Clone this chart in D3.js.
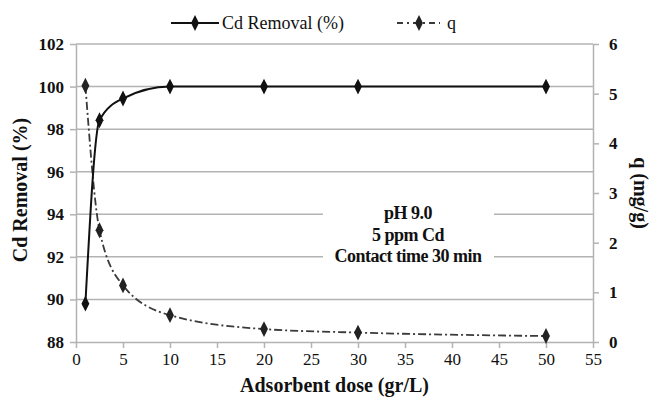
<!DOCTYPE html>
<html>
<head>
<meta charset="utf-8">
<script src="https://cdn.jsdelivr.net/npm/d3@7"></script>
<style>
  html, body { margin: 0; padding: 0; background: #fff; }
  svg { display: block; }
</style>
</head>
<body>
<svg id="chart" width="652" height="403"></svg>
<script>
// Adsorbent dose (g/L)
const doses = [1, 2.5, 5, 10, 20, 30, 50];
// Cd removal (%)
const removal = [89.8, 98.42, 99.44, 100, 100, 100, 100];
// Adsorption capacity q (mg/g)
const qValues = [5.16, 2.25, 1.14, 0.54, 0.26, 0.19, 0.12];

const xTicks = [0, 5, 10, 15, 20, 25, 30, 35, 40, 45, 50, 55];
const leftTicks = [88, 90, 92, 94, 96, 98, 100, 102];
const rightTicks = [0, 1, 2, 3, 4, 5, 6];
const noteLines = ["pH 9.0", "5 ppm Cd", "Contact time 30 min"];

const FONT = "'Liberation Serif', 'Times New Roman', 'DejaVu Serif', serif";

const svg = d3.select("#chart").attr("font-family", FONT);
const m = { left: 76, right: 593, top: 44, bottom: 342 };

const x = d3.scaleLinear().domain([0, 55]).range([m.left, m.right]);
const yL = d3.scaleLinear().domain([88, 102]).range([m.bottom, m.top]);
const yR = d3.scaleLinear().domain([0, 6]).range([m.bottom, m.top]);

const gridColor = "#b3b3b3";
const fmt = d3.format("d");

// horizontal gridlines
svg.append("g").selectAll("line").data(leftTicks.slice(1)).join("line")
  .attr("x1", m.left).attr("x2", m.right)
  .attr("y1", d => yL(d)).attr("y2", d => yL(d))
  .attr("stroke", gridColor).attr("stroke-width", 1.5);

// axes
const axisStyle = g => {
  g.attr("font-family", null);
  g.select(".domain").attr("stroke", gridColor).attr("stroke-width", 1.5);
  g.selectAll(".tick line").attr("stroke", gridColor).attr("stroke-width", 1.5);
  g.selectAll(".tick text").attr("fill", "#111").style("font-family", FONT);
};

svg.append("g").attr("transform", `translate(0,${m.bottom})`)
  .call(d3.axisBottom(x).tickValues(xTicks).tickFormat(fmt).tickSize(6).tickSizeOuter(0).tickPadding(5))
  .call(axisStyle)
  .call(g => g.selectAll(".tick text").attr("font-size", 17));

svg.append("g").attr("transform", `translate(${m.left},0)`)
  .call(d3.axisLeft(yL).tickValues(leftTicks).tickFormat(fmt).tickSize(6).tickSizeOuter(0).tickPadding(6))
  .call(axisStyle)
  .call(g => g.selectAll(".tick text").attr("font-size", 17).attr("font-weight", "bold"));

svg.append("g").attr("transform", `translate(${m.right},0)`)
  .call(d3.axisRight(yR).tickValues(rightTicks).tickFormat(fmt).tickSize(6).tickSizeOuter(0).tickPadding(10))
  .call(axisStyle)
  .call(g => g.selectAll(".tick text").attr("font-size", 17).attr("font-weight", "bold"));

// annotation box (white background over gridlines)
const noteX = 408;
svg.append("rect").attr("x", 323).attr("y", 196).attr("width", 171).attr("height", 74)
  .attr("fill", "#fff");
svg.append("g").selectAll("text").data(noteLines).join("text")
  .attr("x", noteX).attr("y", (d, i) => 219 + i * 21.5)
  .attr("text-anchor", "middle").attr("font-size", 18).attr("font-weight", "bold")
  .attr("letter-spacing", "-0.5").attr("fill", "#111")
  .style("font-family", FONT)
  .text(d => d);

// series
const smooth = d3.curveMonotoneX;
const removalLine = d3.line().x(d => x(d[0])).y(d => yL(d[1])).curve(smooth);
const qLine = d3.line().x(d => x(d[0])).y(d => yR(d[1])).curve(smooth);

const removalPts = doses.map((d, i) => [d, removal[i]]);
const qPts = doses.map((d, i) => [d, qValues[i]]);

const dashDot = "8,3,2,3";

svg.append("path").datum(qPts).attr("d", qLine)
  .attr("fill", "none").attr("stroke", "#3a3a3a").attr("stroke-width", 1.8)
  .attr("stroke-dasharray", dashDot);

svg.append("path").datum(removalPts).attr("d", removalLine)
  .attr("fill", "none").attr("stroke", "#111").attr("stroke-width", 2);

const diamond = d3.symbol().type(d3.symbolDiamond).size(60);

svg.append("g").selectAll("path").data(qPts).join("path")
  .attr("d", diamond)
  .attr("transform", d => `translate(${x(d[0])},${yR(d[1])}) scale(0.95,1.1)`)
  .attr("fill", "#222");

svg.append("g").selectAll("path").data(removalPts).join("path")
  .attr("d", diamond)
  .attr("transform", d => `translate(${x(d[0])},${yL(d[1])}) scale(0.95,1.1)`)
  .attr("fill", "#111");

// axis titles
const title = (sel) => sel.attr("text-anchor", "middle").attr("font-size", 20)
  .attr("font-weight", "bold").attr("fill", "#111").style("font-family", FONT);

svg.append("text")
  .attr("transform", `translate(27,${(m.top + m.bottom) / 2 - 3}) rotate(-90)`)
  .call(title).text("Cd Removal (%)");

svg.append("text")
  .attr("transform", `translate(634,${(m.top + m.bottom) / 2}) rotate(90)`)
  .call(title).text("q (mg/g)");

svg.append("text")
  .attr("x", (m.left + m.right) / 2).attr("y", 392)
  .call(title).text("Adsorbent dose (gr/L)");

// legend
const legend = svg.append("g");
const legendY = 23;
legend.append("line").attr("x1", 171).attr("x2", 219).attr("y1", legendY).attr("y2", legendY)
  .attr("stroke", "#111").attr("stroke-width", 2);
legend.append("path").attr("d", diamond)
  .attr("transform", `translate(195,${legendY}) scale(0.95,1.1)`).attr("fill", "#111");
legend.append("text").attr("x", 222).attr("y", legendY + 6).attr("font-size", 18)
  .attr("fill", "#111").style("font-family", FONT)
  .text("Cd Removal (%)");

legend.append("line").attr("x1", 397).attr("x2", 440).attr("y1", legendY).attr("y2", legendY)
  .attr("stroke", "#3a3a3a").attr("stroke-width", 1.8).attr("stroke-dasharray", "6,4,2,4");
legend.append("path").attr("d", diamond)
  .attr("transform", `translate(419,${legendY}) scale(0.95,1.1)`).attr("fill", "#222");
legend.append("text").attr("x", 447).attr("y", legendY + 6).attr("font-size", 18)
  .attr("fill", "#111").style("font-family", FONT)
  .text("q");
</script>
</body>
</html>
